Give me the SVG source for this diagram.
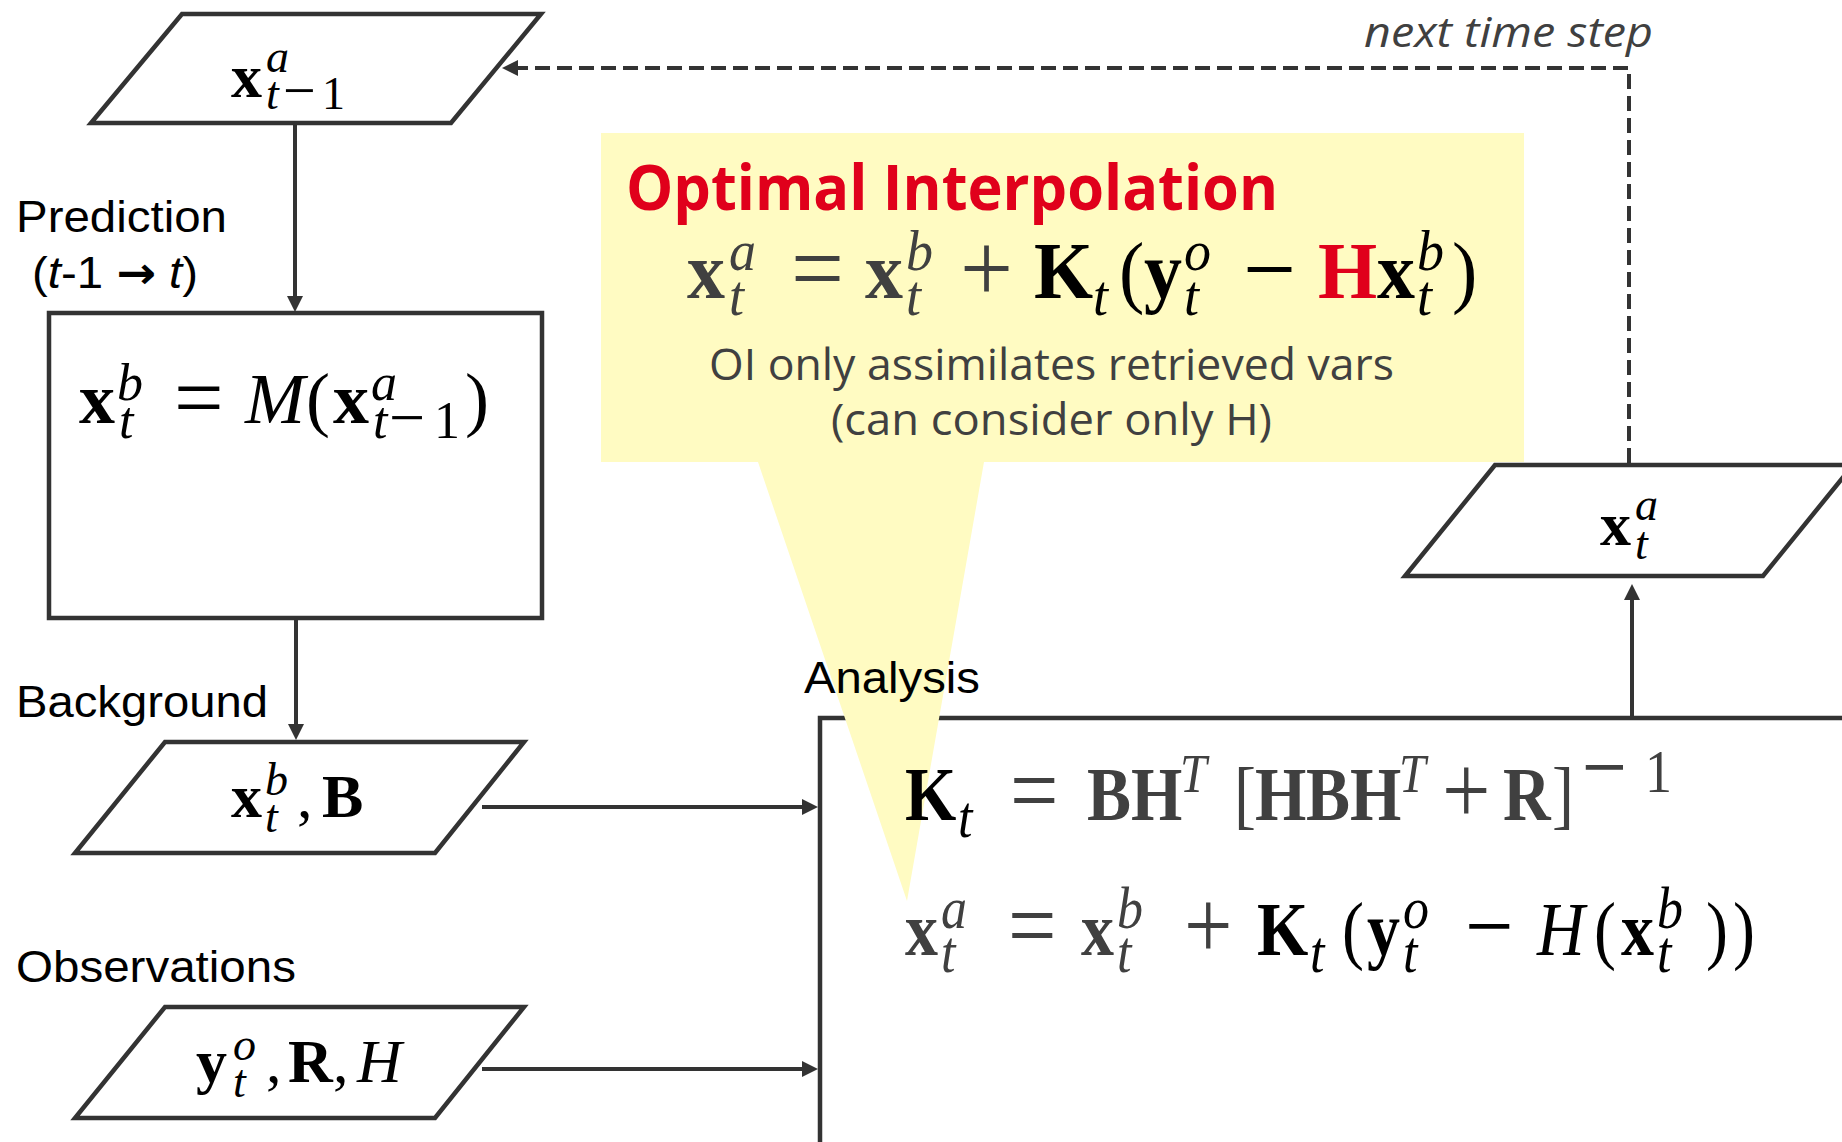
<svg xmlns="http://www.w3.org/2000/svg" width="1842" height="1142" viewBox="0 0 1842 1142">
<defs>
<style>
.ln{fill:none;stroke:#333;stroke-width:4}
.shape{fill:#fff;stroke:#333;stroke-width:4.5}
.lbl{font-family:"Liberation Sans",Arial,sans-serif;font-size:44px;fill:#000}
.m{font-family:"Liberation Serif","Times New Roman",serif}
.bd{font-weight:bold}
.it{font-style:italic}
.g{fill:#404040}
.k{fill:#000}
.red{fill:#E0001B}
.oi{font-family:"Open Sans","Noto Sans",sans-serif}
</style>
<marker id="ah" viewBox="0 0 16 16" refX="6" refY="8" markerWidth="16" markerHeight="16" markerUnits="userSpaceOnUse" orient="auto"><path d="M0,0 L16,8 L0,16 Z" fill="#333"/></marker>
</defs>
<rect x="0" y="0" width="1842" height="1142" fill="#fff"/>

<g id="connectors">
<path class="ln" d="M295,125 V302" marker-end="url(#ah)"/>
<path class="ln" d="M296,620 V730" marker-end="url(#ah)"/>
<path class="ln" d="M482,807 H808" marker-end="url(#ah)"/>
<path class="ln" d="M482,1069 H808" marker-end="url(#ah)"/>
<path class="ln" d="M1632,716 V594" marker-end="url(#ah)"/>
<path class="ln" d="M1629,463 V68 H512" stroke-width="4.5" stroke-dasharray="15 7" marker-end="url(#ah)"/>
</g>

<text class="oi" font-style="italic" font-size="42" fill="#404040" x="1364" y="47" textLength="289" lengthAdjust="spacingAndGlyphs">next time step</text>

<g id="node-xa-prev">
<polygon class="shape" points="182,14 541,14 451,123 91,123"/>
<text class="m k" font-size="62"><tspan class="bd" x="231" y="97">x</tspan><tspan class="it" font-size="46" x="266" y="72">a</tspan><tspan class="it" font-size="46" x="266" y="109">t</tspan><tspan font-size="58" x="283" y="110">−</tspan><tspan font-size="46" x="322" y="109">1</tspan></text>
</g>

<text class="lbl" x="16" y="232" textLength="211" lengthAdjust="spacingAndGlyphs">Prediction</text>
<text class="lbl" x="32" y="288" textLength="166" lengthAdjust="spacingAndGlyphs">(<tspan class="it">t</tspan>-1 <tspan font-family="'DejaVu Sans',sans-serif" font-weight="bold">→</tspan> <tspan class="it">t</tspan>)</text>

<g id="node-prediction">
<rect class="shape" x="49" y="313" width="493" height="305"/>
<text class="m k" font-size="72"><tspan class="bd" x="79" y="423">x</tspan><tspan class="it" font-size="52" x="117" y="400">b</tspan><tspan class="it" font-size="52" x="119" y="438">t</tspan><tspan font-size="88" x="174" y="427">=</tspan><tspan class="it" x="245" y="423">M</tspan><tspan x="306" y="423">(</tspan><tspan class="bd" x="333" y="423">x</tspan><tspan class="it" font-size="52" x="371" y="400">a</tspan><tspan class="it" font-size="52" x="373" y="438">t</tspan><tspan font-size="64" x="389" y="439">−</tspan><tspan font-size="52" x="434" y="438">1</tspan><tspan x="465" y="423">)</tspan></text>
</g>

<text class="lbl" x="16" y="717" textLength="252" lengthAdjust="spacingAndGlyphs">Background</text>

<g id="node-background">
<polygon class="shape" points="165,742 524,742 435,853 75,853"/>
<text class="m k" font-size="62"><tspan class="bd" x="231" y="817">x</tspan><tspan class="it" font-size="46" x="265" y="795">b</tspan><tspan class="it" font-size="46" x="265" y="832">t</tspan><tspan x="297" y="817">,</tspan><tspan class="bd" x="322" y="817">B</tspan></text>
</g>

<text class="lbl" x="16" y="982" textLength="280" lengthAdjust="spacingAndGlyphs">Observations</text>

<g id="node-observations">
<polygon class="shape" points="165,1007 524,1007 435,1118 75,1118"/>
<text class="m k" font-size="62"><tspan class="bd" x="196" y="1082">y</tspan><tspan class="it" font-size="46" x="233" y="1060">o</tspan><tspan class="it" font-size="46" x="233" y="1097">t</tspan><tspan x="266" y="1082">,</tspan><tspan class="bd" x="288" y="1082">R</tspan><tspan x="333" y="1082">,</tspan><tspan class="it" x="357" y="1082">H</tspan></text>
</g>

<g id="node-xa">
<polygon class="shape" points="1495,465 1853,465 1763,576 1405,576"/>
<text class="m k" font-size="62"><tspan class="bd" x="1600" y="545">x</tspan><tspan class="it" font-size="46" x="1635" y="520">a</tspan><tspan class="it" font-size="46" x="1635" y="559">t</tspan></text>
</g>

<g id="node-analysis">
<rect class="shape" x="820" y="718" width="1100" height="500"/>
</g>

<g id="callout">
<path d="M601,133 H1524 V462 H984 L907,901 L758,462 H601 Z" fill="#FFFBC2"/>
<text class="oi red" font-weight="bold" font-size="63" x="626" y="210" textLength="652" lengthAdjust="spacingAndGlyphs">Optimal Interpolation</text>
<g transform="translate(0 298) scale(1 1.05) translate(0 -298)">
<text class="m" font-size="76"><tspan class="bd g" x="687" y="298">x</tspan><tspan class="it g" font-size="54" x="729" y="271.3">a</tspan><tspan class="it g" font-size="54" x="729" y="314.2">t</tspan><tspan class="g" font-size="94" x="791" y="302">=</tspan><tspan class="bd g" x="865" y="298">x</tspan><tspan class="it g" font-size="54" x="906" y="271.3">b</tspan><tspan class="it g" font-size="54" x="906" y="314.2">t</tspan><tspan class="g" font-size="94" x="960" y="302">+</tspan><tspan class="bd k" x="1034" y="298">K</tspan><tspan class="it k" font-size="54" x="1093" y="314.2">t</tspan><tspan class="k" x="1119" y="298">(</tspan><tspan class="bd k" x="1144" y="298">y</tspan><tspan class="it k" font-size="54" x="1184" y="271.3">o</tspan><tspan class="it k" font-size="54" x="1184" y="314.2">t</tspan><tspan class="k" font-size="94" x="1243" y="302">−</tspan><tspan class="bd red" x="1318" y="298">H</tspan><tspan class="bd k" x="1377" y="298">x</tspan><tspan class="it k" font-size="54" x="1417" y="271.3">b</tspan><tspan class="it k" font-size="54" x="1417" y="314.2">t</tspan><tspan class="k" x="1452" y="298">)</tspan></text>
</g>
<text class="oi g" font-size="43" x="709" y="380" textLength="685" lengthAdjust="spacingAndGlyphs">OI only assimilates retrieved vars</text>
<text class="oi g" font-size="43" x="831" y="435" textLength="441" lengthAdjust="spacingAndGlyphs">(can consider only H)</text>
</g>

<g id="node-analysis-content">
<text class="lbl" x="804" y="693" textLength="176" lengthAdjust="spacingAndGlyphs">Analysis</text>
<g transform="translate(0 820) scale(1 1.15) translate(0 -820)">
<text class="m" font-size="66"><tspan class="bd k" x="905" y="820">K</tspan><tspan class="it k" font-size="52" x="958" y="834.8">t</tspan><tspan class="g" font-size="86" x="1010" y="823.5">=</tspan><tspan class="bd g" x="1087" y="820">B</tspan><tspan class="bd g" x="1131" y="820">H</tspan><tspan class="it g" font-size="48" x="1180" y="795.7">T</tspan><tspan class="g" x="1234" y="820">[</tspan><tspan class="bd g" x="1255" y="820">H</tspan><tspan class="bd g" x="1306" y="820">B</tspan><tspan class="bd g" x="1350" y="820">H</tspan><tspan class="it g" font-size="48" x="1399" y="795.7">T</tspan><tspan class="g" font-size="86" x="1442" y="823.5">+</tspan><tspan class="bd g" x="1503" y="820">R</tspan><tspan class="g" x="1552" y="820">]</tspan><tspan class="g" font-size="80" x="1582" y="801">−</tspan><tspan class="g" font-size="54" x="1645" y="795.7">1</tspan></text>
</g>
<g transform="translate(0 955) scale(1 1.15) translate(0 -955)">
<text class="m" font-size="66"><tspan class="bd g" x="905" y="955">x</tspan><tspan class="it g" font-size="52" x="941" y="931.5">a</tspan><tspan class="it g" font-size="52" x="941" y="969.8">t</tspan><tspan class="g" font-size="86" x="1008" y="958.5">=</tspan><tspan class="bd g" x="1081" y="955">x</tspan><tspan class="it g" font-size="52" x="1117" y="931.5">b</tspan><tspan class="it g" font-size="52" x="1117" y="969.8">t</tspan><tspan class="g" font-size="86" x="1184" y="958.5">+</tspan><tspan class="bd k" x="1257" y="955">K</tspan><tspan class="it k" font-size="52" x="1310" y="969.8">t</tspan><tspan class="k" x="1342" y="955">(</tspan><tspan class="bd k" x="1367" y="955">y</tspan><tspan class="it k" font-size="52" x="1403" y="931.5">o</tspan><tspan class="it k" font-size="52" x="1403" y="969.8">t</tspan><tspan class="k" font-size="86" x="1465" y="958.5">−</tspan><tspan class="it k" x="1537" y="955">H</tspan><tspan class="k" x="1594" y="955">(</tspan><tspan class="bd k" x="1621" y="955">x</tspan><tspan class="it k" font-size="52" x="1657" y="931.5">b</tspan><tspan class="it k" font-size="52" x="1657" y="969.8">t</tspan><tspan class="k" x="1706" y="955">)</tspan><tspan class="k" x="1733" y="955">)</tspan></text>
</g>
</g>
</svg>
